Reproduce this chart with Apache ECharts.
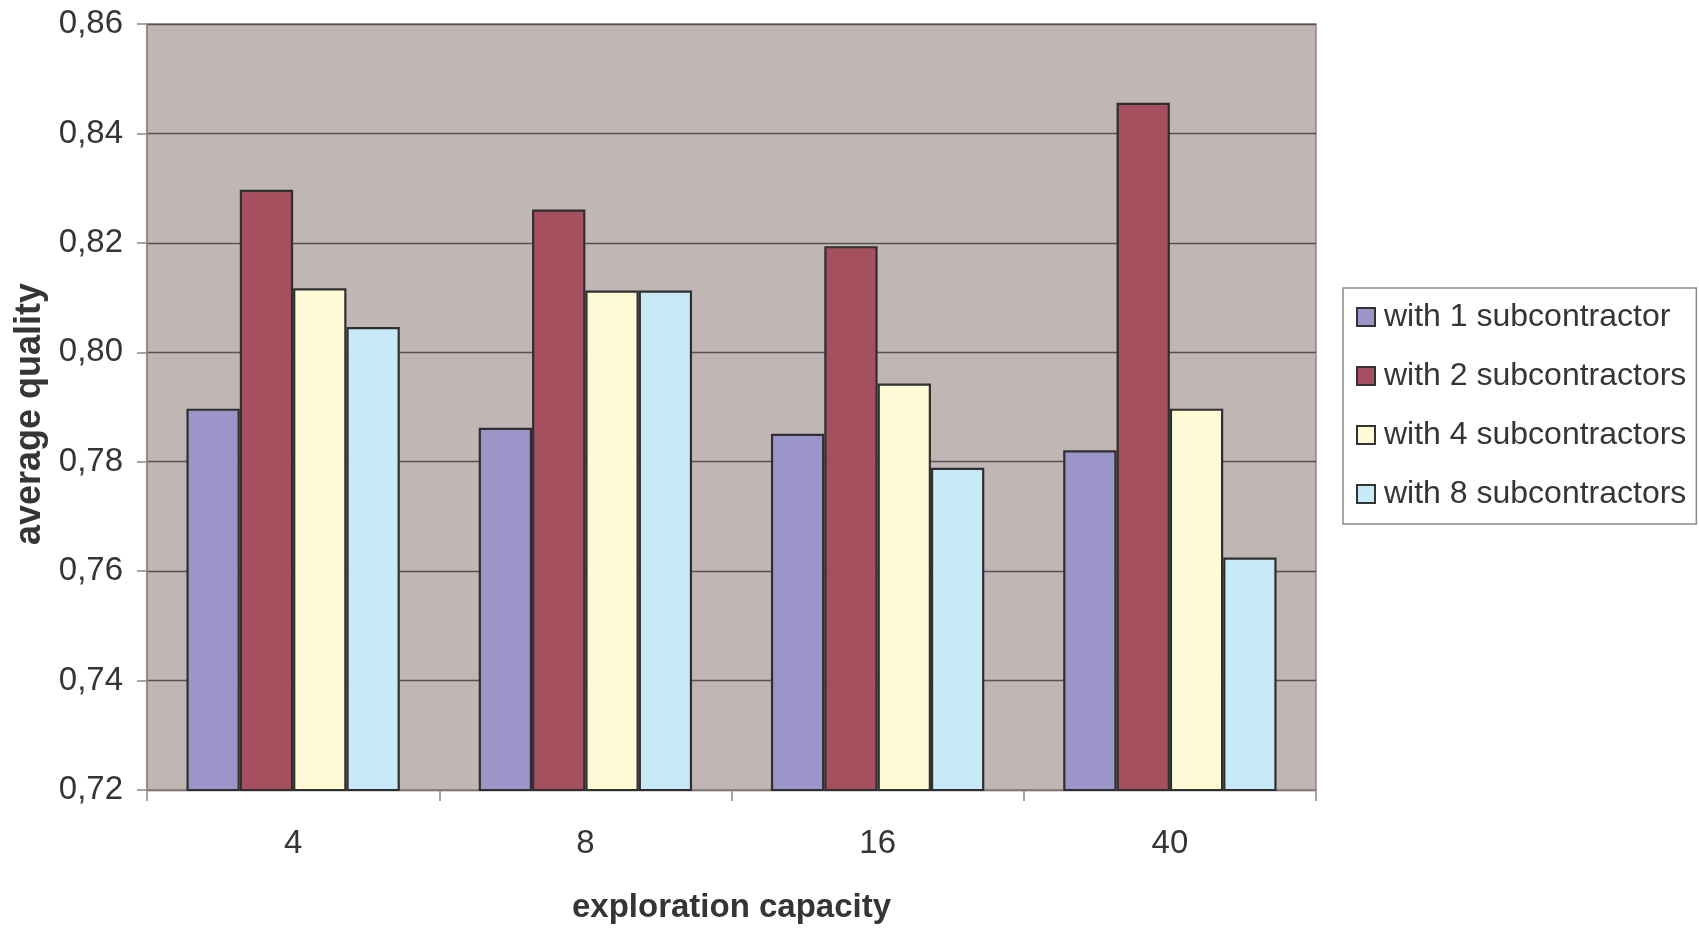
<!DOCTYPE html>
<html>
<head>
<meta charset="utf-8">
<script src="https://cdn.jsdelivr.net/npm/echarts@6/dist/echarts.min.js"></script>
<style>
  html, body { margin: 0; padding: 0; background: #fff; }
  #chart { width: 1699px; height: 929px; }
</style>
</head>
<body>
<div id="chart"></div>
<script>
// Exploration capacity categories
const capacities = ['4', '8', '16', '40'];

// Average quality per number of subcontractors
const seriesNames = [
  'with 1 subcontractor',
  'with 2 subcontractors',
  'with 4 subcontractors',
  'with 8 subcontractors'
];
const with1 = [0.7897, 0.7862, 0.7851, 0.7821];
const with2 = [0.8297, 0.8261, 0.8194, 0.8456];
const with4 = [0.8117, 0.8113, 0.7943, 0.7897];
const with8 = [0.8046, 0.8113, 0.7789, 0.7625];

const yTicks = { min: 0.72, max: 0.86, step: 0.02 };

const colors = ['#9c95c9', '#a5505f', '#fffad6', '#c8e9f8'];
const textColor = '#353535';
const fontFamily = '"Liberation Sans", Arial, Helvetica, sans-serif';

const chart = echarts.init(document.getElementById('chart'), null, { renderer: 'canvas' });

const values = [with1, with2, with4, with8];

chart.setOption({
  animation: false,
  backgroundColor: '#ffffff',
  textStyle: { fontFamily: fontFamily, color: textColor },
  grid: {
    left: 147, right: 383, top: 24, bottom: 139,
    show: true,
    backgroundColor: '#c0b6b4',
    borderColor: '#8e8583',
    borderWidth: 1.5
  },
  legend: {
    orient: 'vertical',
    left: 1343, top: 288,
    padding: [13, 10, 14, 13],
    itemWidth: 18, itemHeight: 18,
    itemGap: 27,
    backgroundColor: '#ffffff',
    borderColor: '#8a8a8a',
    borderWidth: 1.5,
    borderRadius: 0,
    icon: 'rect',
    itemStyle: { borderColor: '#333', borderWidth: 2 },
    textStyle: {
      fontFamily: fontFamily, fontSize: 32, color: textColor,
      lineHeight: 32, padding: [0, 0, 0, 4]
    },
    data: seriesNames
  },
  xAxis: {
    type: 'category',
    data: capacities,
    name: 'exploration capacity',
    nameLocation: 'middle',
    nameGap: 101,
    nameTextStyle: { fontFamily: fontFamily, fontSize: 33, fontWeight: 'bold', color: textColor },
    axisLine: { show: true, lineStyle: { color: '#8e8583', width: 1.5 } },
    axisTick: { show: true, length: 11, inside: false, lineStyle: { color: '#8e8583', width: 1.5 } },
    axisLabel: { fontFamily: fontFamily, fontSize: 33, color: textColor, margin: 37 },
    splitLine: { show: false }
  },
  yAxis: {
    type: 'value',
    min: yTicks.min, max: yTicks.max, interval: yTicks.step,
    name: 'average quality',
    nameLocation: 'middle',
    nameGap: 98,
    nameRotate: 90,
    nameTextStyle: {
      fontFamily: fontFamily, fontSize: 36, fontWeight: 'bold', color: textColor,
      padding: [0, 14, 0, 0]
    },
    axisLine: { show: true, lineStyle: { color: '#8e8583', width: 1.5 } },
    axisTick: { show: true, length: 10, inside: false, lineStyle: { color: '#8e8583', width: 1.5 } },
    axisLabel: {
      fontFamily: fontFamily, fontSize: 33, color: textColor, margin: 24,
      formatter: v => v.toFixed(2).replace('.', ',')
    },
    splitLine: { show: true, lineStyle: { color: '#575151', width: 1.3 } }
  },
  series: seriesNames.map((name, i) => ({
    name: name,
    type: 'bar',
    data: values[i],
    barGap: '0%',
    barCategoryGap: '27%',
    itemStyle: { color: colors[i], borderColor: '#2f2f2f', borderWidth: 2.2 }
  }))
});
</script>
</body>
</html>
